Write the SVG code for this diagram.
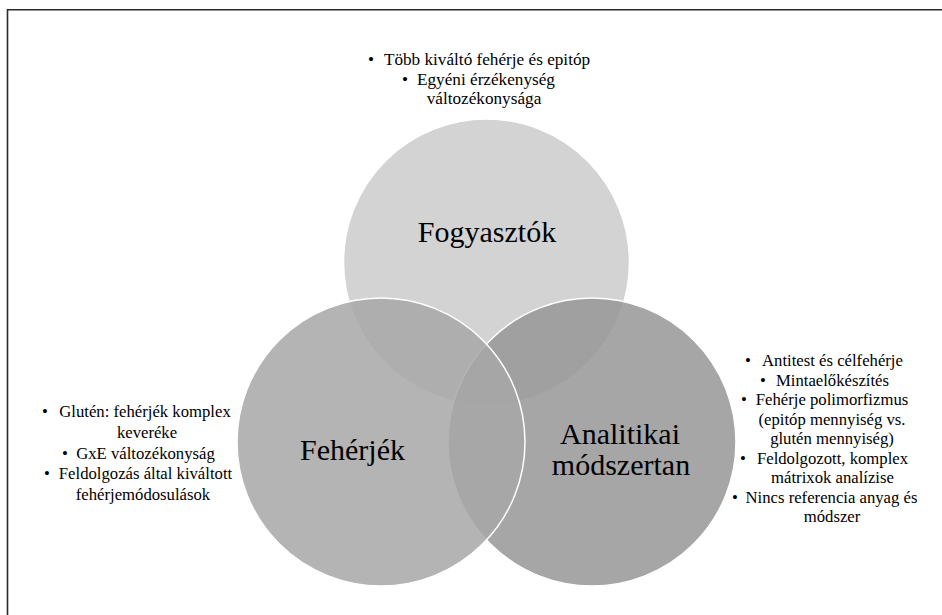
<svg xmlns="http://www.w3.org/2000/svg" width="942" height="615" viewBox="0 0 942 615">
<style>
.c{stroke:#ffffff;stroke-width:1.5;fill-opacity:0.85}
.lbl{font-family:"Liberation Serif","Times New Roman",serif;font-size:30px;fill:#000;text-anchor:middle}
text.b{font-family:"Liberation Serif","Times New Roman",serif;font-size:16.7px;fill:#000;text-anchor:middle}
text.bt{font-size:17.2px}
</style>
<rect x="0" y="0" width="942" height="615" fill="#ffffff"/>
<path d="M7.5,615 V9.75 H942" fill="none" stroke="#2a2a2a" stroke-width="1.6"/>
<g id="connectors"></g>
<g id="fogyasztok">
<circle class="c" cx="486.5" cy="262" r="143" fill="#cbcbcb"/>
<text class="lbl" x="487" y="242">Fogyasztók</text>
<g font-family="Liberation Serif, Times New Roman, serif">
<text class="b bt" x="371" y="65">•</text><text class="b bt" x="487" y="65">Több kiváltó fehérje és epitóp</text>
<text class="b bt" x="405" y="84.5">•</text><text class="b bt" x="486" y="84.5">Egyéni érzékenység</text>
<text class="b bt" x="484" y="104">változékonysága</text>
</g>
</g>
<g id="analitikai">
<circle class="c" cx="592" cy="442" r="144" fill="#969696"/>
<text class="lbl" x="620" y="444">Analitikai</text>
<text class="lbl" x="621" y="475">módszertan</text>
<g font-family="Liberation Serif, Times New Roman, serif">
<text class="b" x="748" y="366">•</text><text class="b" x="832.5" y="366">Antitest és célfehérje</text>
<text class="b" x="763" y="385.5">•</text><text class="b" x="832.5" y="385.5">Mintaelőkészítés</text>
<text class="b" x="744" y="405">•</text><text class="b" x="832" y="405">Fehérje polimorfizmus</text>
<text class="b" x="832" y="424.5">(epitóp mennyiség vs.</text>
<text class="b" x="832" y="444">glutén mennyiség)</text>
<text class="b" x="743" y="463.5">•</text><text class="b" x="832.5" y="463.5">Feldolgozott, komplex</text>
<text class="b" x="832.5" y="483">mátrixok analízise</text>
<text class="b" x="735" y="502.5">•</text><text class="b" x="831.5" y="502.5">Nincs referencia anyag és</text>
<text class="b" x="832" y="522">módszer</text>
</g>
</g>
<g id="feherjek">
<circle class="c" cx="381" cy="442" r="144" fill="#a7a7a7"/>
<text class="lbl" x="352.5" y="460">Fehérjék</text>
<g font-family="Liberation Serif, Times New Roman, serif">
<text class="b" x="45" y="417">•</text><text class="b" x="145" y="417">Glutén: fehérjék komplex</text>
<text class="b" x="147" y="438">keveréke</text>
<text class="b" x="65" y="458.5">•</text><text class="b" x="145.5" y="458.5">GxE változékonyság</text>
<text class="b" x="47" y="479">•</text><text class="b" x="145.5" y="479">Feldolgozás által kiváltott</text>
<text class="b" x="143" y="499.5">fehérjemódosulások</text>
</g>
</g>
</svg>
